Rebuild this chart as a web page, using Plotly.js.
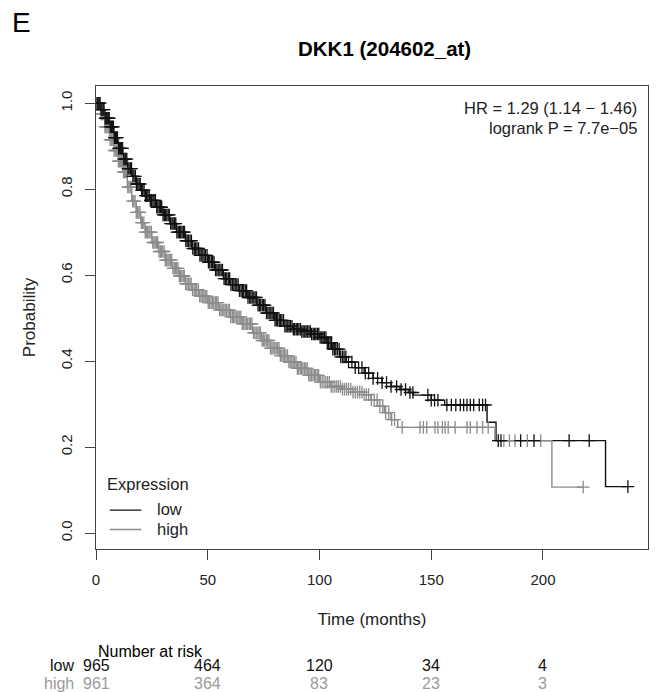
<!DOCTYPE html>
<html>
<head>
<meta charset="utf-8">
<script src="https://cdn.plot.ly/plotly-3.0.1.min.js"></script>
<style>
html,body{margin:0;padding:0;background:#fff;}
#chart{width:670px;height:692px;}
</style>
</head>
<body>
<div id="chart"></div>
<script>
// ---- Data ----
// Kaplan-Meier step points: low expression group
var lowTimes = [0, 2, 4, 6, 8, 10, 12, 14, 16, 18, 20, 22, 24, 27, 30, 33, 36, 40, 43, 46, 50, 53, 57, 60, 64, 68, 72, 76, 80, 84, 88, 92, 96, 100, 103, 106, 109, 112, 116, 120, 124, 128, 132, 136, 140, 142, 150, 156, 175, 179, 228, 238];
var lowSurv  = [1.0, 0.985, 0.965, 0.945, 0.92, 0.895, 0.87, 0.848, 0.83, 0.812, 0.797, 0.785, 0.774, 0.758, 0.74, 0.72, 0.70, 0.68, 0.662, 0.646, 0.63, 0.612, 0.592, 0.578, 0.564, 0.548, 0.53, 0.512, 0.495, 0.481, 0.474, 0.469, 0.463, 0.455, 0.443, 0.428, 0.41, 0.398, 0.385, 0.372, 0.36, 0.35, 0.341, 0.334, 0.327, 0.321, 0.309, 0.298, 0.258, 0.215, 0.108, 0.108];
// high expression group
var highTimes = [0, 2, 4, 6, 8, 10, 12, 14, 16, 18, 20, 22, 25, 28, 31, 34, 37, 40, 43, 46, 50, 55, 60, 65, 70, 74, 78, 82, 86, 90, 95, 100, 105, 110, 115, 120, 123, 126, 129, 132, 135, 178.5, 204, 218];
var highSurv  = [1.0, 0.975, 0.945, 0.915, 0.89, 0.865, 0.84, 0.805, 0.772, 0.746, 0.722, 0.70, 0.676, 0.655, 0.635, 0.616, 0.598, 0.58, 0.566, 0.551, 0.536, 0.519, 0.503, 0.487, 0.466, 0.448, 0.43, 0.413, 0.398, 0.383, 0.367, 0.351, 0.341, 0.335, 0.328, 0.322, 0.31, 0.295, 0.28, 0.264, 0.246, 0.215, 0.107, 0.107];

// censored observation times (the "+" marks)
var lowCensor = [0.5, 0.9, 1.4, 1.8, 2.3, 2.7, 3.2, 3.6, 4.1, 4.6, 5.0, 5.5, 5.9, 6.4, 6.9, 7.3, 7.8, 8.2, 8.7, 9.2, 9.6, 10.1, 10.6, 11.0, 11.5, 11.9, 12.4, 12.9, 13.3, 13.8, 14.3, 14.8, 15.4, 15.9, 16.5, 17.0, 17.6, 18.1, 18.7, 19.3, 19.8, 20.4, 20.9, 21.5, 22.1, 22.6, 23.2, 23.8, 24.3, 24.9, 25.5, 26.0, 26.6, 27.2, 27.7, 28.3, 28.9, 29.4, 30.0, 30.6, 31.1, 31.7, 32.3, 32.8, 33.4, 34.0, 34.5, 35.1, 35.7, 36.2, 36.8, 37.4, 37.9, 38.5, 39.1, 39.6, 40.2, 40.8, 41.4, 42.1, 42.7, 43.3, 44.0, 44.6, 45.2, 45.9, 46.5, 47.1, 47.8, 48.4, 49.0, 49.7, 50.3, 50.9, 51.6, 52.2, 52.8, 53.5, 54.1, 54.7, 55.4, 56.0, 56.6, 57.3, 57.9, 58.5, 59.2, 59.8, 60.4, 61.1, 61.7, 62.3, 63.0, 63.6, 64.2, 64.9, 65.5, 66.1, 66.8, 67.4, 68.0, 68.7, 69.3, 69.9, 70.6, 71.2, 71.8, 72.5, 73.1, 73.7, 74.4, 75.0, 75.6, 76.3, 76.9, 77.5, 78.2, 78.8, 79.4, 80.1, 80.7, 81.3, 82.0, 82.6, 83.2, 83.9, 84.5, 85.1, 85.8, 86.4, 87.0, 87.7, 88.3, 88.9, 89.6, 90.2, 90.8, 91.5, 92.1, 92.7, 93.4, 94.0, 94.6, 95.3, 95.9, 96.5, 97.2, 97.8, 98.4, 99.1, 99.7, 100.3, 101.0, 101.6, 102.2, 102.9, 103.5, 104.1, 104.8, 105.4, 106.0, 106.7, 107.3, 108.0, 108.8, 109.5, 110.3, 111.0, 111.8, 113, 114.5, 116, 117.5, 119, 120.5, 122, 124, 126, 128, 130, 132, 134.5, 136.5, 138.5, 140.5, 141.8, 148.5, 150, 151.5, 153, 157, 159, 161, 163, 164.5, 166, 167.5, 169, 171.5, 173, 174.3, 180, 181.2, 190, 196, 211.7, 220.7, 238];
var highCensor = [0.4, 0.8, 1.3, 1.7, 2.2, 2.6, 3.1, 3.5, 4.0, 4.5, 4.9, 5.4, 5.8, 6.3, 6.8, 7.2, 7.7, 8.1, 8.6, 9.1, 9.5, 10.0, 10.5, 10.9, 11.4, 11.8, 12.3, 12.8, 13.2, 13.7, 14.2, 14.7, 15.3, 15.8, 16.4, 16.9, 17.5, 18.0, 18.6, 19.2, 19.7, 20.3, 20.8, 21.4, 22.0, 22.5, 23.1, 23.7, 24.2, 24.8, 25.4, 25.9, 26.5, 27.1, 27.6, 28.2, 28.8, 29.3, 29.9, 30.5, 31.0, 31.6, 32.2, 32.7, 33.3, 33.9, 34.4, 35.0, 35.6, 36.1, 36.7, 37.3, 37.8, 38.4, 39.0, 39.5, 40.1, 40.7, 41.3, 42.0, 42.6, 43.2, 43.9, 44.5, 45.1, 45.8, 46.4, 47.0, 47.7, 48.3, 48.9, 49.6, 50.2, 50.8, 51.5, 52.1, 52.7, 53.4, 54.0, 54.6, 55.3, 55.9, 56.5, 57.2, 57.8, 58.4, 59.1, 59.7, 60.3, 61.0, 61.6, 62.2, 62.9, 63.5, 64.1, 64.8, 65.4, 66.0, 66.7, 67.3, 67.9, 68.6, 69.2, 69.8, 70.5, 71.1, 71.7, 72.4, 73.0, 73.6, 74.3, 74.9, 75.5, 76.2, 76.8, 77.4, 78.1, 78.7, 79.3, 80.0, 80.6, 81.2, 81.9, 82.5, 83.1, 83.8, 84.4, 85.0, 85.7, 86.3, 86.9, 87.6, 88.2, 88.8, 89.5, 90.1, 90.7, 91.4, 92.0, 92.6, 93.3, 93.9, 94.5, 95.2, 95.8, 96.4, 97.1, 97.7, 98.3, 99.0, 99.6, 100.4, 101.2, 102.0, 102.8, 103.6, 104.4, 105.2, 106.0, 106.9, 107.7, 108.5, 109.4, 110.3, 111.2, 112.1, 113.0, 114.0, 115.0, 116.0, 117.0, 118.0, 119.0, 120.0, 121.0, 122.0, 123.2, 124.5, 125.8, 127.0, 128.3, 129.6, 131.0, 132.3, 133.6, 137, 145, 146.5, 148, 151.7, 153, 155, 156.2, 157.6, 160.7, 166, 167.5, 170.5, 173, 175.5, 182.5, 185, 187.5, 193, 199, 218];

// axis ticks and number-at-risk table
var xTicks = [0, 50, 100, 150, 200];
var yTicks = [0.0, 0.2, 0.4, 0.6, 0.8, 1.0];
var yTickText = ['0.0', '0.2', '0.4', '0.6', '0.8', '1.0'];
var riskTimes = [0, 50, 100, 150, 200];
var riskLow = [965, 464, 120, 34, 4];
var riskHigh = [961, 364, 83, 23, 3];
var groupNames = ['low', 'high'];

// ---- Styling ----
var LOW_COL = '#111111';
var HIGH_COL = '#8c8c8c';
var HIGH_TXT = '#9a9a9a';
var FONT = 'Liberation Sans, Arial, Helvetica, sans-serif';

function survAt(times, surv, t) {
  var s = surv[0];
  for (var i = 0; i < times.length; i++) { if (times[i] <= t) s = surv[i]; else break; }
  return s;
}

var traces = [
  {x: lowTimes, y: lowSurv, type: 'scatter', mode: 'lines', line: {shape: 'hv', color: LOW_COL, width: 1.4}, name: groupNames[0], hoverinfo: 'skip'},
  {x: highTimes, y: highSurv, type: 'scatter', mode: 'lines', line: {shape: 'hv', color: HIGH_COL, width: 1.4}, name: groupNames[1], hoverinfo: 'skip'},
  {x: highCensor, y: highCensor.map(function (t) { return survAt(highTimes, highSurv, t); }), type: 'scatter', mode: 'markers',
   marker: {symbol: 'cross-thin', size: 9, color: HIGH_COL, line: {color: HIGH_COL, width: 1.3}}, hoverinfo: 'skip'},
  {x: lowCensor, y: lowCensor.map(function (t) { return survAt(lowTimes, lowSurv, t); }), type: 'scatter', mode: 'markers',
   marker: {symbol: 'cross-thin', size: 9, color: LOW_COL, line: {color: LOW_COL, width: 1.3}}, hoverinfo: 'skip'}
];

var annotations = [
  {text: 'E', xref: 'paper', yref: 'paper', x: -0.155, y: 1.138, xanchor: 'left', yanchor: 'middle', showarrow: false, font: {family: FONT, size: 28, color: '#000'}},
  {text: '<b>DKK1 (204602_at)</b>', xref: 'paper', yref: 'paper', x: 0.523, y: 1.082, xanchor: 'center', yanchor: 'middle', showarrow: false, font: {family: FONT, size: 20.5, color: '#000'}},
  {text: 'HR = 1.29 (1.14 \u2212 1.46)', xref: 'paper', yref: 'paper', x: 0.984, y: 0.952, xanchor: 'right', yanchor: 'middle', showarrow: false, font: {family: FONT, size: 16.5, color: '#222'}},
  {text: 'logrank P = 7.7e\u221205', xref: 'paper', yref: 'paper', x: 0.984, y: 0.909, xanchor: 'right', yanchor: 'middle', showarrow: false, font: {family: FONT, size: 16.5, color: '#222'}},
  // legend
  {text: 'Expression', xref: 'paper', yref: 'paper', x: 0.017, y: 0.140, xanchor: 'left', yanchor: 'middle', showarrow: false, font: {family: FONT, size: 16.5, color: '#222'}},
  {text: groupNames[0], xref: 'paper', yref: 'paper', x: 0.107, y: 0.086, xanchor: 'left', yanchor: 'middle', showarrow: false, font: {family: FONT, size: 16.5, color: '#222'}},
  {text: groupNames[1], xref: 'paper', yref: 'paper', x: 0.107, y: 0.043, xanchor: 'left', yanchor: 'middle', showarrow: false, font: {family: FONT, size: 16.5, color: '#222'}},
  // number at risk
  {text: 'Number at risk', xref: 'paper', yref: 'paper', x: 0.0, y: -0.221, xanchor: 'left', yanchor: 'middle', showarrow: false, font: {family: FONT, size: 16, color: '#000'}},
  {text: groupNames[0], xref: 'paper', yref: 'paper', x: -0.037, y: -0.252, xanchor: 'right', yanchor: 'middle', showarrow: false, font: {family: FONT, size: 16, color: LOW_COL}},
  {text: groupNames[1], xref: 'paper', yref: 'paper', x: -0.037, y: -0.291, xanchor: 'right', yanchor: 'middle', showarrow: false, font: {family: FONT, size: 16, color: HIGH_TXT}}
];
riskTimes.forEach(function (t, i) {
  annotations.push({text: String(riskLow[i]), xref: 'x', yref: 'paper', x: t, y: -0.252, xanchor: 'center', yanchor: 'middle', showarrow: false, font: {family: FONT, size: 16, color: LOW_COL}});
  annotations.push({text: String(riskHigh[i]), xref: 'x', yref: 'paper', x: t, y: -0.291, xanchor: 'center', yanchor: 'middle', showarrow: false, font: {family: FONT, size: 16, color: HIGH_TXT}});
});

var shapes = [
  {type: 'line', xref: 'paper', yref: 'paper', x0: 0.025, x1: 0.082, y0: 0.084, y1: 0.084, line: {color: LOW_COL, width: 1.4}},
  {type: 'line', xref: 'paper', yref: 'paper', x0: 0.025, x1: 0.082, y0: 0.042, y1: 0.042, line: {color: HIGH_COL, width: 1.4}}
];

var axisCommon = {showgrid: false, zeroline: false, showline: true, mirror: true, linecolor: '#444', linewidth: 1,
  ticks: 'outside', ticklen: 10, tickwidth: 1, tickcolor: '#444', ticklabelstandoff: 7,
  tickfont: {family: FONT, size: 15, color: '#222'}};

var layout = {
  width: 670, height: 692,
  margin: {l: 96, r: 22, t: 86, b: 143},
  paper_bgcolor: '#fff', plot_bgcolor: '#fff',
  font: {family: FONT, color: '#222'},
  showlegend: false,
  xaxis: Object.assign({}, axisCommon, {range: [0, 247], tickvals: xTicks, ticktext: xTicks.map(String),
    title: {text: 'Time (months)', font: {family: FONT, size: 17, color: '#222'}, standoff: 26}}),
  yaxis: Object.assign({}, axisCommon, {range: [-0.037, 1.040], tickvals: yTicks, ticktext: yTickText, tickangle: -90,
    title: {text: 'Probability', font: {family: FONT, size: 17, color: '#222'}, standoff: 18}}),
  annotations: annotations,
  shapes: shapes
};

Plotly.newPlot('chart', traces, layout, {staticPlot: true, displayModeBar: false});
</script>
</body>
</html>
